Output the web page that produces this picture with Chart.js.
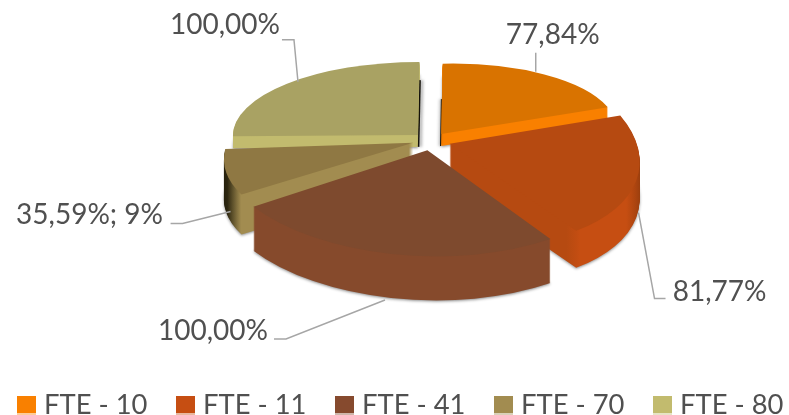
<!DOCTYPE html>
<html>
<head>
<meta charset="utf-8">
<script src="https://cdn.jsdelivr.net/npm/chart.js@4"></script>
<style>
  body { margin: 0; background: #fff; }
  #wrap { position: relative; width: 789px; height: 415px; overflow: hidden; }
  #legend { position: absolute; top: 385px; left: 17px; display: flex; font: 27.4px Lato; color: #505050; }
  #legend div { display: flex; align-items: center; width: 159px; height: 36px; white-space: nowrap; }
  #legend i { width: 19px; height: 19px; margin-right: 8px; margin-top: 4px; }
</style>
</head>
<body>
<div id="wrap">
  <canvas id="myChart" width="789" height="415"></canvas>
  <div id="legend"></div>
</div>
<script>
const categories = ['FTE - 10', 'FTE - 11', 'FTE - 41', 'FTE - 70', 'FTE - 80'];
const values = [77.84, 81.77, 100, 35.59, 100];
const valueLabels = ['77,84%', '81,77%', '100,00%', '35,59%; 9%', '100,00%'];

// lit colour (legend, cut faces) and the darker top face
const sliceColors = ['#f98000', '#c64e12', '#864a2e', '#a28c50', '#c2bb6e'];
const topColors = ['#d97300', '#b64a11', '#7e4a2e', '#8f7843', '#a9a263'];
const wallStops = [
  [[0, '#f98000'], [1, '#f98000']],
  [[0, '#b64a11'], [0.74, '#b64a11'], [0.77, '#c64e12'], [0.9, '#c64e12'], [0.95, '#9c3f0e'], [0.985, '#3a1f08'], [1, '#3a1f08']],
  [[0, '#864a2c'], [1, '#864a2c']],
  [[0, '#1c1808'], [0.05, '#2c2610'], [0.1, '#a28c50'], [1, '#a28c50']],
  [[0, '#c2bb6e'], [1, '#c2bb6e']]
];
const drawOrder = [4, 0, 3, 1, 2];

// fake perspective: each slice gets its own canvas matrix and wall height
const sliceMatrix = [
  [0.875, -0.02, -0.006, 0.35],
  [0.94, 0.027, 0.117, 0.509],
  [1.056, 0.013, 0.019, 0.53],
  [0.895, -0.018, -0.129, 0.424],
  [0.925, 0, -0.008, 0.365]
];
const sliceDepth = [12, 37, 44, 40, 12];

// leader line: nudge of the start point, elbow and text relative to the slice point
const labelStarts = [[-8, -3], [3, -5], [-6, 2], [-4, 0], [11, -2]];
const labelElbows = [[-8, -22], [19, 81], [-105, 41], [-52, 12], [7, -44]];
const labelTails = [0, 11, -12, -12, -12];
const labelOffsets = [[9, -40], [84, 74], [-178, 33], [-145, 3], [-62, -59]];

const viewX = 431, viewY = 140;

function applyView(ctx, el, i, dy) {
  const m = sliceMatrix[i];
  ctx.translate(viewX, viewY + dy);
  ctx.transform(m[0], m[1], m[2], m[3], 0, 0);
  ctx.translate(-el.x, -el.y);
}

function stampArc(ctx, el, i, dy, fill) {
  const stamp = Object.create(el);
  stamp.options = {
    offset: el.options.offset, spacing: 0, borderWidth: 0, borderRadius: 0,
    circular: true, borderAlign: 'center', backgroundColor: fill, borderColor: fill
  };
  ctx.save();
  applyView(ctx, el, i, dy);
  stamp.draw(ctx);
  ctx.restore();
}

// thin dark inner edge along the gap at 12 o'clock
function darkEdge(ctx, el, i, angle, shift, length, width) {
  const off = el.options.offset / 4;
  const mid = (el.startAngle + el.endAngle) / 2;
  const ox = el.x + Math.cos(mid) * off, oy = el.y + Math.sin(mid) * off;
  ctx.save();
  ctx.translate(shift, 0);
  applyView(ctx, el, i, 0);
  ctx.beginPath();
  ctx.moveTo(ox, oy + sliceDepth[i] / sliceMatrix[i][3]);
  ctx.lineTo(ox + Math.cos(angle) * el.outerRadius * length, oy + Math.sin(angle) * el.outerRadius * length);
  ctx.restore();
  ctx.save();
  ctx.shadowColor = 'rgba(0,0,0,0.5)';
  ctx.shadowBlur = 3;
  ctx.shadowOffsetX = shift * 2;
  ctx.strokeStyle = '#14120a';
  ctx.lineWidth = width;
  ctx.stroke();
  ctx.restore();
}

const tiltedPie = {
  id: 'tiltedPie',
  beforeDatasetsDraw(chart) {
    const ctx = chart.ctx;
    const arcs = chart.getDatasetMeta(0).data;
    drawOrder.forEach(i => {
      const el = arcs[i];
      const wall = ctx.createLinearGradient(el.x - 220, 0, el.x + 220, 0);
      wallStops[i].forEach(s => wall.addColorStop(s[0], s[1]));
      ctx.save();
      ctx.shadowColor = 'rgba(0,0,0,0.45)';
      ctx.shadowBlur = 3;
      ctx.shadowOffsetY = 1;
      stampArc(ctx, el, i, sliceDepth[i], wall);
      ctx.restore();
      for (let d = sliceDepth[i] - 1; d > 0; d--) stampArc(ctx, el, i, d, wall);
      if (i === 4) darkEdge(ctx, el, i, el.endAngle, 1, 0.75, 1.5);
      if (i === 0) darkEdge(ctx, el, i, el.startAngle, -0.5, 0.5, 1);
      stampArc(ctx, el, i, 0, topColors[i]);
    });
    ctx.font = '28px Lato';
    ctx.textAlign = 'center';
    ctx.textBaseline = 'middle';
    arcs.forEach((el, i) => {
      const m = sliceMatrix[i];
      const a = (el.startAngle + el.endAngle) / 2;
      const r = el.outerRadius + el.options.offset / 4;
      const px = Math.cos(a) * r, py = Math.sin(a) * r;
      const x = viewX + m[0] * px + m[2] * py;
      const y = viewY + m[1] * px + m[3] * py + (py > 0 ? sliceDepth[i] : 0);
      const ex = x + labelElbows[i][0], ey = y + labelElbows[i][1];
      ctx.strokeStyle = '#a6a6a6';
      ctx.lineWidth = 1.5;
      ctx.beginPath();
      ctx.moveTo(x + labelStarts[i][0], y + labelStarts[i][1]);
      ctx.lineTo(ex, ey);
      ctx.lineTo(ex + labelTails[i], ey);
      ctx.stroke();
      ctx.fillStyle = '#505050';
      ctx.fillText(valueLabels[i], x + labelOffsets[i][0], y + labelOffsets[i][1]);
    });
    return false;
  }
};

const myChart = new Chart(document.getElementById('myChart'), {
  type: 'pie',
  data: {
    labels: categories,
    datasets: [{ data: values, backgroundColor: sliceColors, borderWidth: 0, offset: 80 }]
  },
  options: {
    responsive: false,
    animation: false,
    radius: 200,
    plugins: { legend: { display: false }, tooltip: { enabled: false } }
  },
  plugins: [tiltedPie]
});

myChart.options.plugins.legend.labels.generateLabels(myChart).forEach(item => {
  const row = document.createElement('div');
  const box = document.createElement('i');
  box.style.background = 'linear-gradient(transparent 88%, rgba(255,255,255,0.6) 88%), ' + item.fillStyle;
  row.appendChild(box);
  row.appendChild(document.createTextNode(item.text));
  document.getElementById('legend').appendChild(row);
});
</script>
</body>
</html>
